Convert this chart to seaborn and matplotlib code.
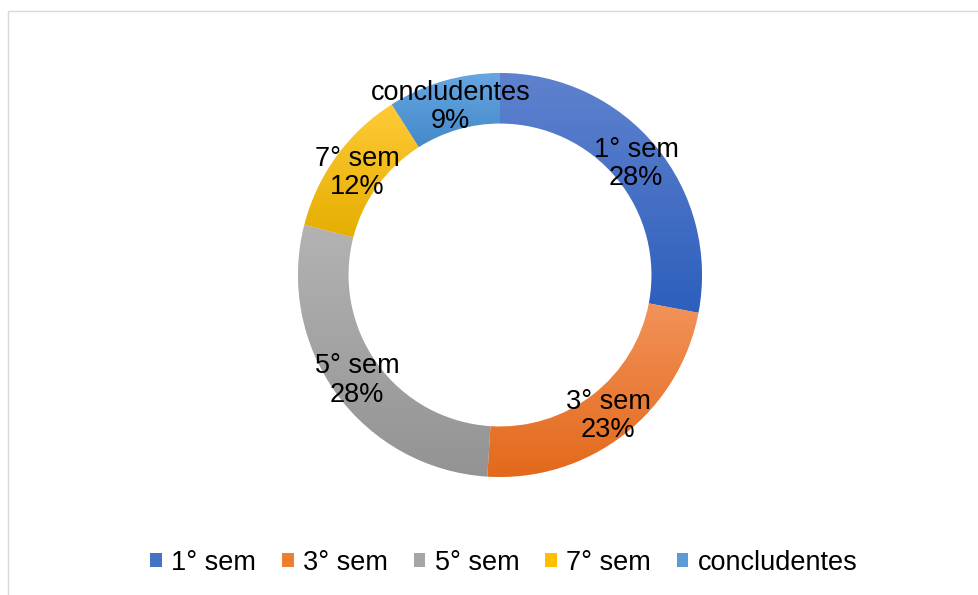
import numpy as np
import matplotlib
matplotlib.use("Agg")
import matplotlib.pyplot as plt
import matplotlib.colors as mcolors
from matplotlib.patches import Rectangle, Patch
import seaborn as sns

categories = ["1° sem", "3° sem", "5° sem", "7° sem", "concludentes"]
shares = [28, 23, 28, 12, 9]
top_colors = ["#5F82CE", "#F2925A", "#B3B3B3", "#FFCA38", "#66A6E2"]
bottom_colors = ["#2D5FBD", "#E3691A", "#939393", "#E5AE00", "#4589C9"]
base_colors = ["#4472C4", "#ED7D31", "#A5A5A5", "#FFC000", "#5B9BD5"]

sns.set_theme(style="white")
plt.rcParams["font.family"] = ["Liberation Sans", "DejaVu Sans"]
plt.rcParams["text.color"] = "black"

W, H, DPI = 979, 595, 100
FS = 19.5
fig = plt.figure(figsize=(W / DPI, H / DPI), dpi=DPI)
fig.patch.set_facecolor("white")

# chart frame
fig.patches.append(Rectangle((8 / W, -0.05), 1.1, (595 - 11) / H + 0.05,
                             transform=fig.transFigure, fill=False,
                             edgecolor="#D9D9D9", linewidth=1.0))

cx, cy, r = 500, 275, 202
ax = fig.add_axes([(cx - r) / W, (H - cy - r) / H, 2 * r / W, 2 * r / H])
ax.set_facecolor("none")

wedges, _ = ax.pie(shares, colors=base_colors, startangle=90, counterclock=False,
                   radius=1.0, wedgeprops=dict(width=0.25, edgecolor="white", linewidth=0.6))

# vertical gradient fill per wedge
for w, c_top, c_bot in zip(wedges, top_colors, bottom_colors):
    bb = w.get_path().get_extents()
    cmap = mcolors.LinearSegmentedColormap.from_list("g", [c_bot, c_top])
    grad = np.linspace(0, 1, 256).reshape(-1, 1)
    im = ax.imshow(grad, cmap=cmap, origin="lower", aspect="auto",
                   extent=[bb.x0, bb.x1, bb.y0, bb.y1], zorder=w.get_zorder() + 0.1)
    im.set_clip_path(w)

# labels in the middle of the ring
total = sum(shares)
start = 90.0
for name, v in zip(categories, shares):
    mid = start - 360.0 * v / total / 2
    start -= 360.0 * v / total
    a = np.deg2rad(mid)
    ax.text(0.875 * np.cos(a), 0.875 * np.sin(a) - 0.008, f"{name}\n{v}%",
            ha="center", va="center", fontsize=FS, color="black",
            linespacing=1.12, zorder=10)

ax.set_xlim(-1, 1)
ax.set_ylim(-1, 1)
ax.set_aspect("equal")
ax.axis("off")

handles = [Patch(facecolor=c, edgecolor="none") for c in base_colors]
fig.legend(handles, categories, loc="center", bbox_to_anchor=(504 / W, (H - 563) / H),
           ncol=5, frameon=False, fontsize=FS, handlelength=0.42, handleheight=0.42,
           handletextpad=0.35, columnspacing=0.96, labelcolor="black")

fig.savefig("out.png", dpi=DPI, facecolor="white")
